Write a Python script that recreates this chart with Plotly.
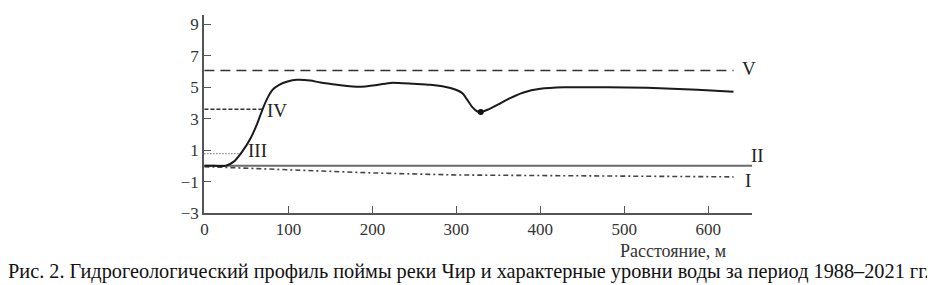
import plotly.graph_objects as go

# Profile of the floodplain (distance, m -> elevation, m)
profile_x = [0, 12, 25, 35, 45, 55, 63, 69, 75, 81, 89, 99, 110, 126, 138, 160, 184,
             207, 222, 249, 269, 293, 307, 313, 319, 325, 329, 337, 349, 364, 380,
             400, 428, 480, 527, 587, 630]
profile_y = [0, 0, 0, 0.27, 0.91, 1.76, 2.71, 3.57, 4.31, 4.84, 5.16, 5.37, 5.48, 5.43,
             5.3, 5.15, 5.03, 5.16, 5.28, 5.22, 5.16, 4.95, 4.63, 4.2, 3.74, 3.46,
             3.42, 3.57, 3.89, 4.31, 4.67, 4.9, 5.0, 5.0, 4.97, 4.84, 4.71]
dip_x = [329]
dip_y = [3.42]

# Characteristic water levels
level_V_x = [0, 630]
level_V_y = [6.07, 6.07]
level_IV_x = [0, 69]
level_IV_y = [3.6, 3.6]
level_III_x = [0, 45]
level_III_y = [0.78, 0.78]
level_II_x = [0, 652]
level_II_y = [0, 0]
level_I_x = [0, 50, 100, 200, 300, 400, 500, 630]
level_I_y = [-0.05, -0.15, -0.25, -0.45, -0.58, -0.62, -0.65, -0.7]

# Labels: (text, x, y, anchor)
level_labels = [("V", 648, 6.2, "center"), ("IV", 87, 3.55, "center"),
                ("III", 63, 0.95, "center"), ("II", 648, 0.65, "left"),
                ("I", 647, -0.9, "center")]

x_ticks = [0, 100, 200, 300, 400, 500, 600]
y_ticks = [-3, -1, 1, 3, 5, 7, 9]

caption = ("Рис. 2. Гидрогеологический профиль поймы реки Чир и характерные "
           "уровни воды за период 1988–2021 гг.:")
x_title = "Расстояние, м"

FONT = "Liberation Serif"

fig = go.Figure()
fig.add_trace(go.Scatter(x=level_II_x, y=level_II_y, mode="lines",
                         line=dict(color="#6a6a6a", width=2), hoverinfo="skip"))
fig.add_trace(go.Scatter(x=level_I_x, y=level_I_y, mode="lines",
                         line=dict(color="#444", width=1.6, dash="5px,3px,2px,3px"),
                         hoverinfo="skip"))
fig.add_trace(go.Scatter(x=level_V_x, y=level_V_y, mode="lines",
                         line=dict(color="#333", width=1.6, dash="10px,6px"),
                         hoverinfo="skip"))
fig.add_trace(go.Scatter(x=level_IV_x, y=level_IV_y, mode="lines",
                         line=dict(color="#333", width=1.4, dash="4px,2px"),
                         hoverinfo="skip"))
fig.add_trace(go.Scatter(x=level_III_x, y=level_III_y, mode="lines",
                         line=dict(color="#555", width=1.4, dash="1px,2px"),
                         hoverinfo="skip"))
fig.add_trace(go.Scatter(x=profile_x, y=profile_y, mode="lines",
                         line=dict(color="#1a1a1a", width=2, shape="spline", smoothing=0.6),
                         hoverinfo="skip"))
fig.add_trace(go.Scatter(x=dip_x, y=dip_y, mode="markers",
                         marker=dict(color="#111", size=6), hoverinfo="skip"))

for text, lx, ly, anchor in level_labels:
    fig.add_annotation(x=lx, y=ly, text=text, showarrow=False, xref="x", yref="y",
                       xanchor=anchor,
                       font=dict(family=FONT, size=19, color="#222"))

fig.add_annotation(x=624, y=-0.19, xref="x", yref="paper", text=x_title,
                   showarrow=False, xanchor="right", yanchor="middle",
                   font=dict(family=FONT, size=18, color="#333"))

axis_common = dict(showgrid=False, zeroline=False, showline=True, linecolor="#555",
                   linewidth=1.5, ticks="inside", ticklen=7, tickcolor="#555",
                   tickwidth=1.2, tickfont=dict(family=FONT, size=17, color="#333"))

fig.update_xaxes(range=[-0.5, 652], tickvals=x_ticks, ticklabelstandoff=0, **axis_common)
fig.update_yaxes(range=[-3, 9.6], tickvals=y_ticks, **axis_common)

# The page body adds an 8px margin, so the figure is sized to fit the window
fig.update_layout(
    width=927, height=277,
    margin=dict(l=196, r=183, t=7, b=72),
    paper_bgcolor="white", plot_bgcolor="white",
    showlegend=False,
    title=dict(text=caption, xref="container", yref="container", x=0.0, y=0.05,
               xanchor="left", yanchor="middle",
               font=dict(family=FONT, size=20.3, color="#111")),
)

fig.write_html("out.html")
